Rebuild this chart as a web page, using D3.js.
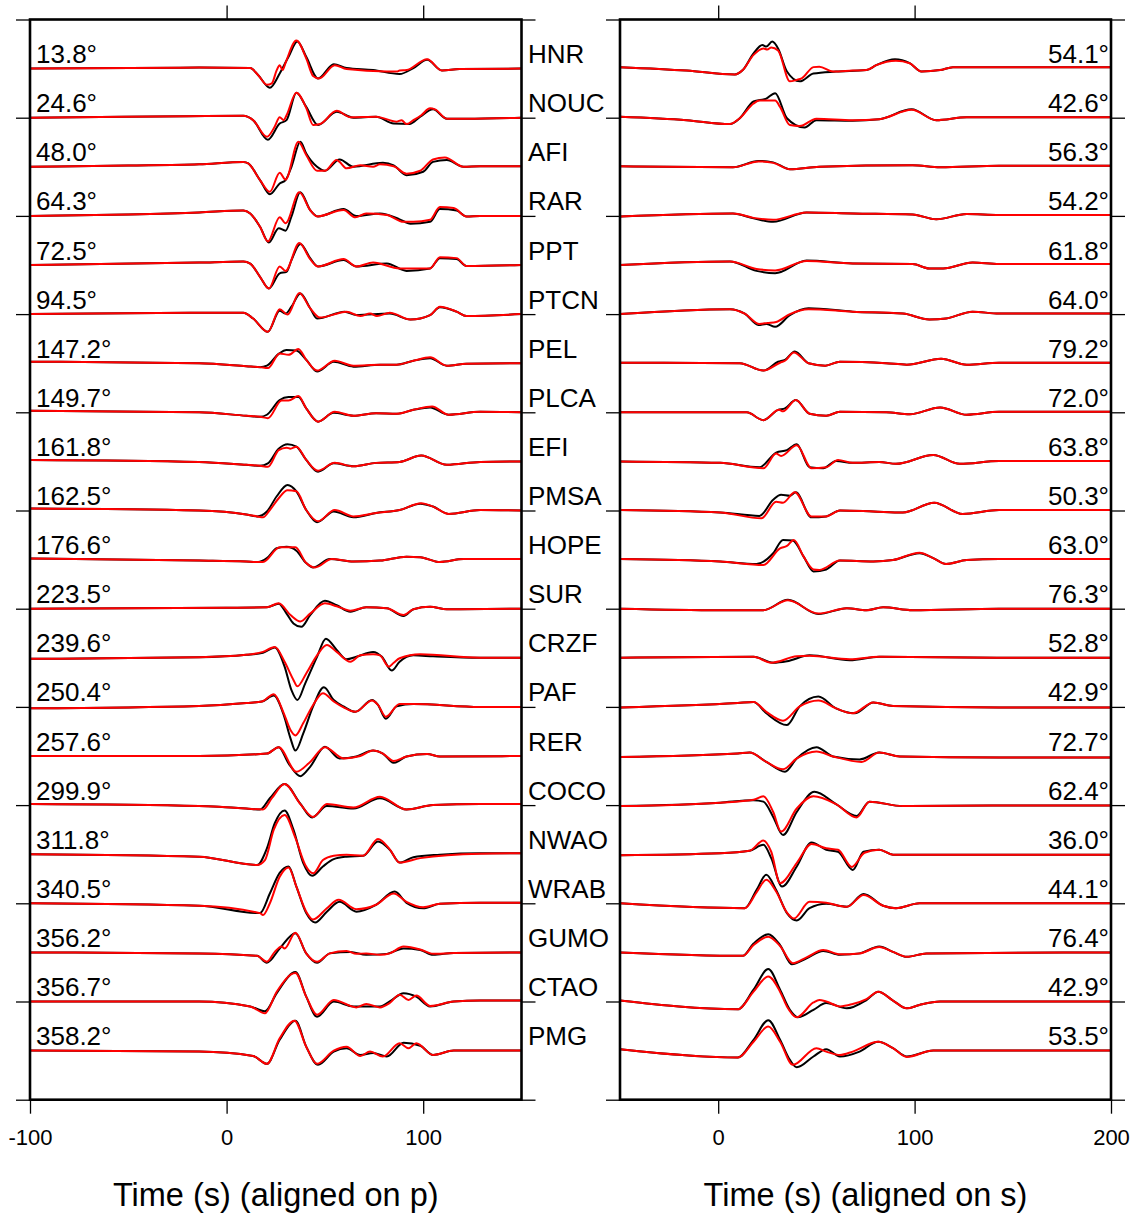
<!DOCTYPE html>
<html>
<head>
<meta charset="utf-8">
<script src="https://cdn.jsdelivr.net/npm/d3@7"></script>
<style>
  body { margin: 0; background: #fff; }
  text { font-family: "Liberation Sans", Arial, Helvetica, sans-serif; fill: #000; }
</style>
</head>
<body>
<div id="chart"></div>
<script>
// Stations, one per row (top to bottom)
var stations = ["HNR","NOUC","AFI","RAR","PPT","PTCN","PEL","PLCA","EFI","PMSA","HOPE",
                "SUR","CRZF","PAF","RER","COCO","NWAO","WRAB","GUMO","CTAO","PMG"];

// Labels printed at the left of the p panel and the right of the s panel (degrees)
var azimuth  = [13.8,24.6,48.0,64.3,72.5,94.5,147.2,149.7,161.8,162.5,176.6,
                223.5,239.6,250.4,257.6,299.9,311.8,340.5,356.2,356.7,358.2];
var distance = [54.1,42.6,56.3,54.2,61.8,64.0,79.2,72.0,63.8,50.3,63.0,
                76.3,52.8,42.9,72.7,62.4,36.0,44.1,76.4,42.9,53.5];

// Axis ticks
var pTicks = [-100, 0, 100];
var sTicks = [0, 100, 200];
var pTopTicks = [0, 100];
var sTopTicks = [0, 100];
var rowTicks = [0, 2, 4, 6, 8, 10, 12, 14, 16, 18, 20, 22];

// Waveforms: [time (s), amplitude] ; amplitude in tenths of a row spacing, up positive
// observed (black) and synthetic (red), aligned on p
var obsP = [
  [[-100,0],[-14,0.2],[12,0.1],[16,-1.3],[22,-3.9],[27,-1.0],[31.5,2.4],[36,5.5],[40.5,2.4],[46.5,-2.0],[54.5,0.9],[61,0.1],[74.5,-0.3],[88,-1.1],[95,0.1],[102,1.8],[109.5,-0.4],[118.5,-0.1],[150,0]],
  [[-100,0],[-20,0.3],[8.5,0.4],[13.5,-0.5],[21,-4.5],[27,-1.2],[30.5,-0.5],[35.5,5.1],[40.5,2.2],[46.5,-1.5],[56,1.2],[64.5,0],[76,0.2],[85,-1.2],[93,-1.3],[98.5,0.2],[105,1.7],[112,-0.2],[122,-0.2],[150,0]],
  [[-100,0],[-50,0.25],[-14,0.5],[8.5,1.0],[11,0.7],[17,-2.7],[22,-5.6],[27,-3.4],[30,-2.7],[33,0],[37.5,5.1],[40.5,2.7],[46,0],[50,-0.8],[57.5,1.5],[64.5,0],[79.5,0.8],[85,0.3],[91.5,-1.7],[100,-1.0],[105,1.0],[112,1.4],[120.5,0],[129,0.1],[150,0.1]],
  [[-100,0],[-50,0.3],[-14,0.7],[8.5,1.1],[12,0.5],[17,-2.2],[21.5,-5.4],[26.5,-2.5],[30,-3.0],[33,-0.1],[37.5,4.8],[42.5,1.2],[46.5,-0.1],[59.5,1.4],[66,0],[78,0.5],[88,-0.7],[93.5,-1.6],[103.5,-1.2],[108.5,1.4],[117,1.1],[122,-0.1],[129,0],[150,0]],
  [[-100,0],[-14,0.5],[8.5,0.7],[12,0.3],[17,-2.4],[21.5,-4.8],[27,-1.7],[30.5,-1.4],[33,1.0],[37.5,4.3],[42.5,1.4],[46.5,-0.3],[59.5,1.0],[66,-0.3],[81.5,0.3],[91.5,-1.2],[103.5,-0.7],[108.5,1.4],[117,1.2],[122,-0.2],[150,0]],
  [[-100,0],[-14,0.3],[8.5,0.3],[13.5,-0.9],[21,-3.6],[27,0.7],[30,0.1],[33,1.5],[37.5,4.2],[42.5,1.2],[46,-0.9],[60,0.5],[66,-0.2],[83,0.1],[93.5,-1.1],[103.5,-0.2],[108.5,1.4],[117,0.5],[122,-0.4],[150,0]],
  [[-100,0.3],[-14,0],[10,-0.6],[17,-0.8],[20.5,-0.5],[26.5,1.9],[30.5,2.7],[35.5,2.6],[40.5,0.7],[46,-1.7],[54.5,0.3],[64.5,-0.7],[78,-0.3],[86.5,-0.3],[95,0.5],[103.5,1.0],[112,-0.5],[122,-0.1],[150,0]],
  [[-100,0.3],[-14,0],[10,-0.7],[17,-0.9],[20.5,-0.5],[27,2.5],[31.5,3.1],[36.5,3.1],[40.5,0.8],[46.5,-1.9],[54.5,-0.1],[64.5,-0.7],[76,-0.2],[86.5,-0.3],[95,0.5],[103.5,1.0],[113,-0.5],[129,0.1],[150,0]],
  [[-100,0.3],[-14,-0.1],[10,-0.7],[17,-0.9],[21,-0.4],[26.5,2.6],[31,3.5],[35.5,3.0],[40.5,0.3],[46.5,-2.1],[54.5,-0.4],[64.5,-1.0],[76,-0.3],[88,-0.1],[99,1.2],[112,-0.7],[129,-0.1],[150,0]],
  [[-100,0.4],[-14,0],[10,-0.8],[15.5,-1.2],[20.5,-0.2],[25.5,2.9],[31,5.2],[35.5,3.9],[40.5,0.1],[46,-2.4],[54.5,-0.2],[64.5,-1.4],[76,-0.5],[88,0.1],[98.5,1.4],[105,0.8],[113,-0.7],[129,0.1],[150,0]],
  [[-100,0.2],[-14,-0.2],[10,-0.4],[16,-0.5],[20.5,0.3],[25.5,2.3],[30.5,2.6],[35.5,1.8],[40.5,-0.7],[44,-1.6],[52.5,0.1],[64.5,-0.4],[78,-0.2],[91.5,0.6],[98.5,0.5],[108.5,-0.5],[120.5,0.1],[150,0.1]],
  [[-100,0],[0,0.2],[20.5,0.3],[26.5,1.0],[30.5,-1.0],[34,-3.0],[38,-3.7],[42.5,-1.3],[50,1.6],[56,0.7],[63,-0.6],[71,0.3],[81.5,0.1],[90,-1.5],[95,-0.1],[103.5,0.4],[112,-0.1],[150,0]],
  [[-100,-0.2],[-14,0.1],[10,0.6],[18.5,1.0],[24.5,2.1],[29.5,-1.8],[33,-6.6],[36,-8.6],[40,-5.2],[46,0.2],[50.5,3.9],[56,1.6],[61,-0.3],[66,0.2],[74.5,1.2],[79,0.2],[84,-2.6],[88,-0.8],[95,0.5],[105,0.3],[129,0],[150,0]],
  [[-100,-0.3],[-14,0.2],[10,0.8],[18,1.1],[24,2.3],[29,-1.6],[32.5,-6.4],[35,-8.9],[39,-5.4],[44,0.1],[49.5,4.0],[54.5,1.4],[59.5,0.1],[65.5,-1.0],[74,1.4],[77,0.4],[81,-2.4],[86.5,0.1],[95,0.6],[129,0],[150,0]],
  [[-100,0],[-14,0],[20.5,0.5],[26.5,1.8],[31.5,-1.5],[37.5,-4.1],[42.5,-2.2],[50,1.9],[57.5,-0.5],[66,-0.1],[74.5,1.1],[79.5,0.5],[85,-1.4],[91.5,-0.1],[102,0.4],[108.5,-0.1],[150,0]],
  [[-100,0.2],[-14,-0.2],[10,-0.7],[17,-0.9],[22,1.4],[29.5,4.3],[37.5,0.3],[43.5,-2.5],[51,-0.2],[64.5,-0.7],[78,1.4],[91.5,-0.9],[105,0],[129,0.2],[150,0.2]],
  [[-100,0],[-14,-0.5],[15.5,-2.2],[20.5,1.2],[24.5,6.3],[29.5,8.9],[34,5.0],[39,-1.8],[43.5,-4.4],[49,-2.5],[54.5,-1.0],[61,-0.5],[69.5,-0.3],[77,2.6],[83,0.9],[88,-1.7],[95,-0.6],[108.5,-0.1],[129,0.2],[150,0.2]],
  [[-100,0],[-14,-0.5],[17,-2.0],[22,2.0],[27,6.2],[31.5,7.5],[35.5,3.4],[40.5,-2.0],[45,-3.9],[51,-1.7],[57.5,0.3],[66,-1.7],[76,-0.3],[85.5,2.4],[91.5,0.1],[100,-1.0],[108.5,-0.1],[129,0.1],[150,0.1]],
  [[-100,0],[-14,-0.2],[15.5,-0.7],[20.5,-2.1],[27,0.8],[35,3.9],[40.5,-0.2],[46,-2.1],[52.5,-0.2],[63,0.1],[71,-0.5],[81.5,-0.3],[90,0.8],[98.5,0.5],[105,-0.5],[115.5,-0.1],[150,0]],
  [[-100,0],[-14,0],[12,-1.0],[19.5,-2.0],[25.5,1.7],[35,6.0],[40.5,1.0],[46,-3.1],[54.5,0],[64.5,-1.0],[78,-1.0],[84,0.3],[90,1.7],[96.5,1.0],[103.5,-1.0],[115.5,0],[129,0.2],[150,0.2]],
  [[-100,0],[-14,-0.2],[13.5,-1.1],[20.5,-2.7],[27,2.2],[35,6.1],[40.5,0.8],[46.5,-2.9],[54.5,-0.2],[61,0.5],[68,-0.9],[74.5,-0.5],[81.5,-1.2],[90,1.6],[98.5,1.0],[105,-0.9],[115.5,0],[150,0]]
];

var synP = [
  [[-100,0],[-14,0.2],[12,0.1],[16,-1.3],[20.5,-3.3],[23,-3.0],[25.5,-0.3],[27,0.7],[28.5,-0.3],[30,1.2],[35.5,5.7],[40.5,2.1],[44,-1.5],[47,-2.0],[55,0.7],[61,-0.1],[81.5,-0.6],[86.5,-0.6],[88,-0.4],[91.5,-0.3],[102,1.9],[109.5,-0.4],[118.5,-0.1],[150,0]],
  [[-100,0],[-20,0.3],[8.5,0.4],[13.5,-0.5],[20.5,-3.9],[24.5,-1.8],[27,0.1],[29,-0.5],[30.5,0.5],[35.5,5.1],[40.5,2.0],[44,-1.5],[47.5,-1.3],[56,1.4],[63,0.1],[76,0.2],[86.5,-0.8],[89,-0.5],[91.5,-1.3],[95,-0.5],[99,0.5],[103.5,1.9],[106,1.7],[112,-0.2],[122,-0.2],[150,0]],
  [[-100,0],[-50,0.25],[-14,0.5],[8.5,1.0],[11,0.7],[17,-2.7],[22,-5.1],[27,-1.2],[30,-2.6],[36.5,5.1],[40.5,2.4],[46,-0.8],[50,-0.8],[56,1.4],[57.5,1.0],[61,-0.3],[68,0.3],[74.5,0],[78,0.5],[85,0.1],[91.5,-1.4],[98.5,-0.8],[105,1.5],[111,1.9],[120.5,0],[129,0.1],[150,0.1]],
  [[-100,0],[-50,0.3],[-14,0.7],[8.5,1.1],[12,0.5],[17,-2.2],[21,-5.2],[27,-0.3],[30,-1.5],[37,4.8],[42.5,1.2],[46,-0.1],[59.5,1.2],[65.5,-0.3],[71,0.5],[81.5,0.2],[90,-1.2],[95,-1.2],[103.5,-0.8],[108.5,1.8],[115.5,1.6],[122,-0.1],[129,0],[150,0]],
  [[-100,0],[-14,0.5],[8.5,0.7],[12,0.3],[17,-2.4],[21.5,-4.8],[27,-0.3],[30,-1.2],[37,4.5],[42.5,1.2],[46.5,-0.3],[59.5,1.2],[66,-0.3],[74.5,0.5],[88,-0.7],[103.5,-0.7],[108.5,1.6],[117,1.4],[122,-0.2],[150,0]],
  [[-100,0],[-14,0.3],[8.5,0.3],[13.5,-0.9],[21,-3.6],[27,1.0],[31,-0.1],[37,4.3],[42.5,1.2],[47.5,-0.7],[61,0.5],[68,-0.4],[73,0.1],[76.5,-0.4],[83,0.3],[93.5,-1.1],[103.5,-0.2],[108.5,1.5],[117,0.5],[122,-0.4],[150,0]],
  [[-100,0.3],[-14,0],[10,-0.6],[17,-0.8],[21,-1.0],[27,2.0],[31.5,1.7],[36.5,2.9],[40.5,0.7],[46,-1.5],[55,0.5],[64.5,-0.5],[78,-0.3],[86.5,-0.3],[95,0.5],[103.5,1.2],[112,-0.5],[122,-0.1],[150,0]],
  [[-100,0.3],[-14,0],[10,-0.7],[17,-0.9],[21,-1.2],[28,2.4],[31.5,2.4],[36.5,3.3],[40.5,0.8],[46.5,-1.9],[55,0.1],[64.5,-0.7],[76,-0.2],[86.5,-0.3],[95,0.5],[104.5,1.2],[113,-0.5],[129,0.1],[150,0]],
  [[-100,0.3],[-14,-0.1],[10,-0.7],[17,-0.9],[21,-1.1],[26.5,2.3],[30.5,2.8],[32.5,2.6],[35.5,3.0],[40.5,0.3],[46.5,-1.9],[55,-0.3],[64.5,-1.0],[76,-0.3],[88,-0.1],[99,1.2],[112,-0.7],[129,-0.1],[150,0]],
  [[-100,0.4],[-14,0],[10,-0.8],[15.5,-1.2],[18.5,-1.4],[22,0.1],[26.5,2.5],[31,4.1],[35.5,3.9],[40.5,0.1],[46.5,-2.2],[55,0.1],[64.5,-1.2],[76,-0.5],[88,0.1],[99,1.5],[105,0.8],[113,-0.7],[129,0.1],[150,0]],
  [[-100,0.2],[-14,-0.2],[10,-0.4],[16,-0.5],[18.5,-0.5],[27,2.5],[35,2.5],[40.5,-0.7],[45,-1.6],[53.5,0.1],[64.5,-0.4],[78,-0.2],[91.5,0.6],[98.5,0.5],[108.5,-0.5],[120.5,0.1],[150,0.1]],
  [[-100,0],[0,0.2],[20.5,0.3],[26.5,1.1],[32.5,-1.3],[37.5,-2.6],[42.5,-1.0],[50,1.1],[56,0.5],[63,-0.4],[71,0.3],[81.5,0.1],[90,-1.3],[95,-0.1],[103.5,0.4],[112,-0.1],[150,0]],
  [[-100,-0.2],[-14,0.1],[10,0.6],[18.5,1.2],[24.5,2.2],[29.5,-0.8],[34,-4.5],[36,-5.8],[40.5,-3.2],[46,0.5],[51,2.6],[56,1.2],[63,-0.8],[68,0.5],[74.5,0.7],[78,0.5],[82.5,-1.8],[85,-1.0],[88,-0.1],[98.5,0.7],[129,0],[150,0]],
  [[-100,-0.3],[-14,0.2],[10,0.8],[18,1.1],[24,2.6],[29,-1.2],[32.5,-4.7],[35,-5.8],[39,-3.3],[44,0.4],[49,2.8],[54.5,1.1],[59.5,-0.1],[65.5,-1.0],[74,1.3],[77,0.4],[81,-2.0],[88,0.6],[95,0.6],[129,0],[150,0]],
  [[-100,0],[-14,0],[20.5,0.5],[26.5,1.8],[35.5,-3.2],[42.5,-1.2],[50,1.8],[59.5,-0.5],[68,0],[74.5,1.1],[79.5,0.5],[85,-1.0],[91.5,-0.1],[102,0.4],[108.5,-0.1],[150,0]],
  [[-100,0.2],[-14,-0.2],[10,-0.7],[18.5,-0.9],[23,1.4],[29.5,4.3],[37.5,0.2],[44,-2.4],[51,0.2],[64.5,-0.5],[78,1.7],[91.5,-0.9],[105,0],[129,0.2],[150,0.2]],
  [[-100,0],[-14,-0.5],[15.5,-2.2],[19.5,-1.2],[24,5.0],[29.5,8.0],[35,3.3],[40,-2.2],[44,-3.9],[49,-1.2],[54.5,-0.3],[61,-0.1],[69.5,-0.3],[77,3.1],[83,1.0],[88,-1.7],[98.5,-0.8],[129,0.1],[150,0.2]],
  [[-100,0],[-14,-0.5],[17,-2.0],[18.5,-2.4],[22,0],[27,5.4],[31.5,7.3],[35.5,3.4],[40.5,-1.7],[44,-3.3],[51,-1.0],[57,0.7],[66,-1.2],[76,-0.3],[85,2.0],[91.5,0.3],[100,-0.8],[108.5,-0.1],[129,0.1],[150,0.1]],
  [[-100,0],[-14,-0.2],[15.5,-0.7],[20.5,-1.9],[24.5,0.1],[28,1.2],[29.5,0.8],[35,4.0],[40.5,-0.2],[46,-1.9],[52.5,-0.2],[61,0.3],[66,-0.3],[71,-0.2],[78,-0.5],[83,-0.2],[90,1.2],[98.5,0.6],[105,-0.3],[115.5,-0.1],[150,0]],
  [[-100,0],[-14,0],[12,-1.0],[19.5,-2.4],[25.5,2.0],[35,5.8],[40.5,1.0],[46,-2.7],[54.5,0.3],[66,-1.2],[71,-0.5],[78,-1.2],[83,-0.3],[88,1.4],[92.5,0.3],[96.5,1.2],[103.5,-0.9],[115.5,0],[129,0.2],[150,0.2]],
  [[-100,0],[-14,-0.2],[13.5,-1.1],[20.5,-2.7],[27,2.5],[34.5,6.1],[40.5,0.8],[46,-2.7],[54.5,0],[61,0.8],[68,-1.1],[73,-0.2],[79.5,-1.2],[88,1.5],[92.5,0.5],[96.5,1.5],[105,-0.9],[115.5,0],[150,0]]
];

// aligned on s
var obsS = [
  [[-50,0.3],[-16,-0.4],[8.5,-1.2],[12.5,-0.3],[18,3.1],[22.5,4.8],[24.5,4.5],[27.5,5.5],[30.5,4.1],[35,-0.6],[41.5,-2.6],[48.5,-1.0],[60,-0.6],[75.5,-0.3],[80.5,0.7],[90,1.9],[97.5,1.1],[103.5,-0.6],[113,-0.3],[119.5,0.3],[200,0.3]],
  [[-50,0.2],[-16,-0.5],[6,-1.3],[11,-0.1],[18,3.3],[24.5,3.9],[29,5.0],[35,-0.1],[44,-2.0],[50,-0.5],[68.5,-0.6],[82,-0.3],[98.5,1.7],[111,-0.5],[126.5,0.1],[200,0.1]],
  [[-50,0.1],[7.5,-0.1],[20.5,1.2],[28,0.9],[36.5,-0.5],[51.5,0],[99,0.3],[113,-0.1],[143,0.2],[200,0.2]],
  [[-50,-0.1],[7.5,0.5],[18,-0.5],[28,-1.2],[45,0.7],[68.5,0.5],[99,0.3],[111,-0.7],[126.5,0.4],[143,0.2],[200,0.2]],
  [[-50,0],[6,0.7],[19.5,-1.2],[29,-1.7],[45,0.9],[68.5,0.3],[99,0.2],[107.5,-0.7],[114.5,-0.7],[129.5,0.5],[143,0.2],[200,0.2]],
  [[-50,0],[6,1.0],[13.5,0.1],[20.5,-2.2],[24.5,-2.0],[29,-2.6],[36.5,-0.2],[46,1.2],[68.5,0.5],[94,0.1],[107.5,-1.1],[116,-0.9],[129.5,0.5],[143,0.1],[200,0.1]],
  [[-50,0.1],[11,0],[23,-1.5],[30.5,0.3],[34,0.7],[39,2.4],[46,0],[54.5,-0.5],[62,0.3],[85.5,0],[96,-0.3],[113.5,0.9],[126.5,-0.3],[143,0.1],[200,0.1]],
  [[-50,0],[14.5,0],[23,-1.6],[30.5,0.5],[34,0.8],[39.5,2.5],[46.5,-0.3],[55,-0.7],[62,0.1],[85.5,0],[97.5,-0.4],[113,1.0],[126.5,-0.5],[143,0.1],[200,0.1]],
  [[-50,0],[1,-0.3],[21,-1.2],[29.5,1.8],[35,2.3],[40,3.5],[46.5,-1.2],[53.5,-1.4],[60,0.1],[68.5,-0.3],[82,-0.1],[90.5,-0.5],[109.5,1.3],[123,-0.5],[143,0.1],[200,0.1]],
  [[-50,0.1],[1,-0.4],[21,-1.1],[28,2.2],[32,3.2],[36.5,3.0],[39.5,3.7],[47.5,-1.4],[55,-1.2],[62,0],[79,-0.2],[94,-0.4],[110,1.6],[124.5,-0.7],[143,0.1],[200,0.1]],
  [[-50,0.1],[1,-0.4],[19.5,-0.9],[28,1.3],[33,4.0],[38,3.9],[43.5,0.6],[48.5,-2.4],[55,-2.0],[62,-0.2],[79,-0.4],[89,-0.1],[102.5,1.3],[109.5,0.3],[116,-0.9],[126.5,-0.1],[143,0.1],[200,0.1]],
  [[-50,0],[1,-0.3],[23,-0.3],[35.5,1.8],[51,-1.1],[65.5,0.1],[75.5,-0.3],[84,0.3],[99,-0.3],[143,0],[200,0]],
  [[-50,0],[18,0.2],[28,-1.0],[35,-0.7],[46.5,0.5],[67,-0.5],[82,0.2],[143,0],[200,0]],
  [[-50,-0.1],[10,0.8],[18,1.0],[24.5,-1.3],[35,-3.7],[41.5,0.1],[51,2.1],[60,-0.3],[69.5,-1.3],[79,0.9],[89,0.2],[143,-0.1],[200,-0.1]],
  [[-50,-0.2],[10,0.5],[16,0.7],[24.5,-1.2],[34,-3.2],[40,-0.5],[50,1.8],[58.5,-0.1],[72,-0.7],[82,0.7],[92.5,-0.1],[143,-0.3],[200,-0.3]],
  [[-50,-0.2],[1,0.5],[18,1.0],[23,0.7],[28,-2.4],[33,-6.1],[40,-1.4],[49,2.7],[60,0.2],[70.5,-2.2],[77,0.7],[94,-0.2],[143,-0.1],[200,-0.1]],
  [[-50,-0.2],[1,0.2],[16,0.7],[23,1.9],[27,-0.8],[32.5,-6.6],[40,-2.5],[47.5,2.4],[55,0.9],[61,0.5],[68.5,-3.2],[74,0.5],[82,0.9],[89,-0.1],[143,-0.1],[200,-0.1]],
  [[-50,0],[13.5,-1.0],[19.5,2.7],[24.5,5.8],[29.5,2.7],[35,-2.0],[40,-3.5],[46.5,-1.0],[55,-0.1],[65.5,-0.7],[74,1.9],[84,-0.5],[90.5,-1.0],[102.5,0],[200,0]],
  [[-50,0],[12.5,-0.7],[18,1.8],[25.5,3.7],[31.5,1.5],[37.5,-2.4],[45,-1.2],[53.5,0.3],[62,-0.5],[72,-0.2],[82,1.2],[89,0.1],[96,-0.9],[106,-0.2],[200,0]],
  [[-50,0.2],[10,-1.6],[18,2.4],[25.5,6.6],[31.5,2.4],[36.5,-1.7],[40.5,-3.2],[48.5,-1.7],[55,-0.3],[65.5,-1.4],[75.5,0.3],[81.5,2.0],[89,0.2],[96,-1.4],[102.5,-0.7],[113,0],[200,0]],
  [[-50,0.3],[10,-1.4],[18,2.2],[25.5,6.2],[31.5,2.2],[36.5,-1.9],[40,-3.4],[48.5,-1.2],[55,0.3],[62,-1.2],[72,-0.2],[81.5,1.8],[89,0.5],[96,-1.2],[109.5,0],[200,0]]
];

var synS = [
  [[-50,0.3],[-16,-0.4],[8.5,-1.2],[12.5,-0.3],[18,2.8],[23,4.1],[25,3.9],[27,4.3],[30.5,3.7],[36.5,-2.6],[40,-2.3],[42.5,-2.0],[48.5,0.3],[51.5,0.4],[58.5,-0.6],[68.5,-0.4],[75.5,-0.3],[80.5,0.7],[90.5,1.6],[97.5,1.1],[103.5,-0.6],[113,-0.3],[119.5,0.3],[200,0.3]],
  [[-50,0.2],[-16,-0.5],[6,-1.3],[11,-0.1],[18,2.9],[21,3.5],[29,3.5],[31.5,2.2],[36.5,-1.5],[41.5,-1.7],[50,-0.2],[68.5,-0.5],[82,-0.3],[98.5,1.6],[111,-0.5],[126.5,0.1],[200,0.1]],
  [[-50,0.1],[7.5,-0.1],[20.5,1.1],[28,0.8],[36.5,-0.5],[51.5,0],[99,0.3],[113,-0.1],[143,0.2],[200,0.2]],
  [[-50,-0.1],[7.5,0.5],[18,-0.4],[28,-0.8],[45,0.7],[68.5,0.5],[99,0.3],[111,-0.7],[126.5,0.4],[143,0.2],[200,0.2]],
  [[-50,0],[6,0.7],[19.5,-0.8],[29,-1.1],[45,0.8],[68.5,0.3],[99,0.2],[107.5,-0.7],[114.5,-0.7],[129.5,0.5],[143,0.2],[200,0.2]],
  [[-50,0],[6,1.0],[13.5,0.1],[21,-2.0],[25,-1.8],[29.5,-1.6],[36.5,0],[46,1.0],[68.5,0.5],[94,0.1],[107.5,-1.1],[116,-0.9],[129.5,0.5],[143,0.1],[200,0.1]],
  [[-50,0.1],[11,0],[23,-1.5],[31.5,0.1],[34,0.5],[38.5,2.2],[46,0],[54.5,-0.5],[62,0.3],[85.5,0],[96,-0.3],[113.5,0.9],[126.5,-0.3],[143,0.1],[200,0.1]],
  [[-50,0],[14.5,0],[23,-1.6],[31,0.5],[33,0.2],[39.5,2.5],[46.5,-0.3],[55,-0.7],[62,0.1],[85.5,0],[97.5,-0.4],[113,1.0],[126.5,-0.5],[143,0.1],[200,0.1]],
  [[-50,0],[1,-0.3],[23,-1.4],[29.5,1.6],[32,1.1],[40,3.3],[47.5,-1.4],[55,-1.2],[61,0.3],[68.5,-0.3],[82,-0.1],[90.5,-0.5],[109.5,1.3],[123,-0.5],[143,0.1],[200,0.1]],
  [[-50,0.1],[1,-0.4],[22,-1.6],[29.5,1.8],[33,1.6],[39,3.7],[47.5,-1.2],[55,-1.2],[62,0],[79,-0.2],[94,-0.4],[110,1.6],[124.5,-0.7],[143,0.1],[200,0.1]],
  [[-50,0.1],[1,-0.4],[23,-1.1],[31.5,2.3],[35,2.8],[38.5,4.0],[43.5,0.6],[48.5,-2.0],[51.5,-2.1],[62,-0.2],[79,-0.4],[89,-0.1],[102.5,1.4],[109.5,0.3],[116,-0.9],[126.5,-0.1],[143,0.1],[200,0.1]],
  [[-50,0],[1,-0.3],[23,-0.3],[35.5,1.7],[51,-1.0],[65.5,0.1],[75.5,-0.3],[84,0.3],[99,-0.3],[143,0],[200,0]],
  [[-50,0],[18,0.2],[27,-1.0],[40,0.3],[46.5,0.4],[67,-0.3],[82,0.2],[143,0],[200,0]],
  [[-50,-0.1],[10,0.8],[18,1.0],[24.5,-1.0],[33,-2.8],[41.5,0.1],[51,1.3],[60,-0.3],[68.5,-1.3],[79,0.9],[89,0.2],[143,-0.1],[200,-0.1]],
  [[-50,-0.2],[10,0.5],[16,0.7],[24.5,-1.2],[33,-2.7],[40,-0.5],[50,0.9],[58.5,-0.1],[73,-1.2],[82,0.7],[92.5,-0.1],[143,-0.3],[200,-0.3]],
  [[-50,-0.2],[1,0.5],[18,1.1],[23,1.8],[28,-1.4],[32,-5.4],[40,-0.7],[48.5,1.8],[60,0.2],[70.5,-2.5],[77,0.7],[94,-0.2],[143,-0.1],[200,-0.1]],
  [[-50,-0.2],[1,0.2],[16,0.7],[23,2.8],[27,0.5],[31.5,-5.9],[40,-1.8],[47.5,2.1],[55,1.2],[61,0.9],[68,-2.6],[74.5,0.3],[82,0.9],[89,-0.1],[143,-0.1],[200,-0.1]],
  [[-50,0],[13.5,-1.0],[19.5,2.2],[24.5,4.8],[29.5,2.4],[35,-1.9],[38.5,-3.1],[46.5,0.3],[55,0.1],[65.5,-0.7],[74,1.7],[84,-0.5],[90.5,-1.0],[102.5,0],[200,0]],
  [[-50,0],[12.5,-0.7],[18,1.5],[25.5,3.2],[31.5,1.3],[38,-2.2],[45,-1.0],[53.5,0.5],[62,-0.4],[72,-0.2],[82,1.1],[89,0.1],[96,-0.9],[106,-0.2],[200,0]],
  [[-50,0.2],[10,-1.6],[18,2.0],[25.5,5.1],[31.5,2.0],[35,-1.0],[40,-3.2],[48.5,-0.2],[51.5,0.3],[55,0],[62,-1.0],[68.5,-0.5],[75.5,0.5],[81.5,2.0],[89,0.2],[96,-1.4],[102.5,-0.7],[113,0],[200,0]],
  [[-50,0.3],[10,-1.4],[18,1.8],[25.5,4.9],[31.5,1.8],[38,-2.9],[50,0.5],[55,-0.2],[62,-0.9],[68.5,-0.2],[81.5,1.8],[89,0.5],[96,-1.3],[109.5,0],[200,0]]
];

// ---- drawing ----
var width = 1136, height = 1216;

var svg = d3.select("#chart").append("svg")
    .attr("width", width)
    .attr("height", height);

var yRow = d3.scaleLinear().domain([0, 22]).range([19.5, 1099.7]);

var panels = [
  { name: "p", x: d3.scaleLinear().domain([-100, 150]).range([30, 521.5]),
    obs: obsP, syn: synP, ticks: pTicks, topTicks: pTopTicks,
    title: "Time (s) (aligned on p)" },
  { name: "s", x: d3.scaleLinear().domain([-50, 200]).range([620, 1111]),
    obs: obsS, syn: synS, ticks: sTicks, topTicks: sTopTicks,
    title: "Time (s) (aligned on s)" }
];

function styleAxis(g) {
  g.select(".domain").remove();
  g.selectAll(".tick line").attr("stroke", "#000").attr("stroke-width", 1.3);
  g.selectAll(".tick text")
    .attr("font-size", 22)
    .attr("font-family", "'Liberation Sans', Arial, Helvetica, sans-serif")
    .attr("fill", "#000");
}

function traceLine(x, row) {
  return d3.line()
    .x(function(d) { return x(d[0]); })
    .y(function(d) { return yRow(row - d[1] / 10); })
    .curve(d3.curveMonotoneX);
}

panels.forEach(function(p) {
  var x = p.x;
  var x0 = x.range()[0], x1 = x.range()[1];
  var g = svg.append("g").attr("class", "panel-" + p.name);

  svg.append("clipPath").attr("id", "clip-" + p.name)
    .append("rect")
      .attr("x", x0).attr("y", yRow(0))
      .attr("width", x1 - x0).attr("height", yRow(22) - yRow(0));

  // axes (plain hyphen for negative labels, as in the original)
  g.append("g")
    .attr("transform", "translate(0," + yRow(22) + ")")
    .call(d3.axisBottom(x).tickValues(p.ticks).tickSize(14).tickPadding(16)
            .tickFormat(function(d) { return String(d); }))
    .call(styleAxis);

  g.append("g")
    .attr("transform", "translate(0," + yRow(0) + ")")
    .call(d3.axisTop(x).tickValues(p.topTicks).tickSize(14).tickFormat(""))
    .call(styleAxis);

  g.append("g")
    .attr("transform", "translate(" + x0 + ",0)")
    .call(d3.axisLeft(yRow).tickValues(rowTicks).tickSize(14).tickFormat(""))
    .call(styleAxis);

  g.append("g")
    .attr("transform", "translate(" + x1 + ",0)")
    .call(d3.axisRight(yRow).tickValues(rowTicks).tickSize(14).tickFormat(""))
    .call(styleAxis);

  // traces
  var traces = g.append("g").attr("clip-path", "url(#clip-" + p.name + ")");
  stations.forEach(function(s, i) {
    var row = i + 1;
    traces.append("path")
      .datum(p.obs[i])
      .attr("fill", "none")
      .attr("stroke", "#000")
      .attr("stroke-width", 2)
      .attr("d", traceLine(x, row));
    traces.append("path")
      .datum(p.syn[i])
      .attr("fill", "none")
      .attr("stroke", "#ff0000")
      .attr("stroke-width", 2)
      .attr("d", traceLine(x, row));
  });

  // frame
  g.append("rect")
    .attr("x", x0).attr("y", yRow(0))
    .attr("width", x1 - x0).attr("height", yRow(22) - yRow(0))
    .attr("fill", "none")
    .attr("stroke", "#000")
    .attr("stroke-width", 2.6);

  // axis title
  g.append("text")
    .attr("x", (x0 + x1) / 2)
    .attr("y", 1206)
    .attr("text-anchor", "middle")
    .attr("font-size", 32.5)
    .text(p.title);
});

// row labels
var xP = panels[0].x, xS = panels[1].x;

svg.selectAll(".az-label")
  .data(azimuth)
  .enter().append("text")
    .attr("class", "az-label")
    .attr("x", xP.range()[0] + 6)
    .attr("y", function(d, i) { return yRow(i + 1) - 5.5; })
    .attr("font-size", 26)
    .text(function(d) { return d.toFixed(1) + "\u00b0"; });

svg.selectAll(".sta-label")
  .data(stations)
  .enter().append("text")
    .attr("class", "sta-label")
    .attr("x", xP.range()[1] + 6.5)
    .attr("y", function(d, i) { return yRow(i + 1) - 5.5; })
    .attr("font-size", 26)
    .text(function(d) { return d; });

svg.selectAll(".dist-label")
  .data(distance)
  .enter().append("text")
    .attr("class", "dist-label")
    .attr("x", xS.range()[1] - 2)
    .attr("y", function(d, i) { return yRow(i + 1) - 5.5; })
    .attr("text-anchor", "end")
    .attr("font-size", 26)
    .text(function(d) { return d.toFixed(1) + "\u00b0"; });
</script>
</body>
</html>
